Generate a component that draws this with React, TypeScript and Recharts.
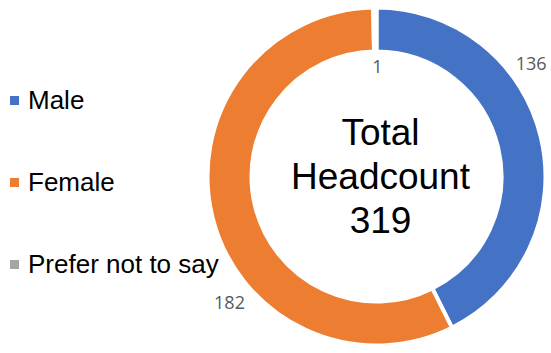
import { PieChart, Pie, Cell } from "recharts";

const categories = ["Male", "Female", "Prefer not to say"];
const headcounts = [136, 182, 1];
const colors = ["#4472C4", "#ED7D31", "#A5A5A5"];
const centerLines = ["Total", "Headcount", "319"];

const pieData = categories.map((name, i) => ({ name, value: headcounts[i] }));

// where each data label sits (Excel "best fit"), angle in degrees, radius in px
const labelSpots = [
  { angle: 36.3, r: 192 },
  { angle: 220.4, r: 193 },
  { angle: 89.5, r: 111 },
];

const RAD = Math.PI / 180;
const CX = 376.5;
const CY = 176.5;

const renderLabel = (props: any) => {
  const { cx, cy, index, value } = props;
  const spot = labelSpots[index];
  const x = cx + spot.r * Math.cos(spot.angle * RAD);
  const y = cy - spot.r * Math.sin(spot.angle * RAD);
  return (
    <text
      x={x}
      y={y}
      textAnchor="middle"
      dominantBaseline="central"
      fill="#595959"
      fontSize={18}
      fontFamily="'Open Sans', 'Liberation Sans', sans-serif"
    >
      {value}
    </text>
  );
};

export default function App() {
  return (
    <div
      style={{
        position: "absolute",
        left: 0,
        top: 0,
        width: 551,
        height: 353,
        background: "#fff",
      }}
    >
      {/* legend on the left */}
      <div style={{ position: "absolute", left: 0, top: 0, width: 230, height: 353 }}>
        {categories.map((name, i) => (
          <div
            key={name}
            style={{
              position: "absolute",
              left: 10,
              top: 100 + i * 82 - 15,
              height: 30,
              display: "flex",
              alignItems: "center",
              whiteSpace: "nowrap",
              fontFamily: "'Liberation Sans', Arial, sans-serif",
              fontSize: 26,
              color: "#000",
            }}
          >
            <span
              style={{
                display: "inline-block",
                width: 9,
                height: 9,
                background: colors[i],
                marginRight: 9,
              }}
            />
            {name}
          </div>
        ))}
      </div>

      <div style={{ position: "absolute", left: 0, top: 0 }}>
        <PieChart width={551} height={353} margin={{ top: 0, right: 0, bottom: 0, left: 0 }}>
          <Pie
            data={pieData}
            dataKey="value"
            nameKey="name"
            cx={CX}
            cy={CY}
            innerRadius={125}
            outerRadius={169}
            startAngle={90}
            endAngle={-270}
            stroke="#fff"
            strokeWidth={4}
            label={renderLabel}
            labelLine={false}
            isAnimationActive={false}
          >
            {pieData.map((entry, i) => (
              <Cell key={entry.name} fill={colors[i]} />
            ))}
          </Pie>
        </PieChart>
      </div>

      {/* centre caption */}
      <div
        style={{
          position: "absolute",
          left: CX - 116,
          top: 111,
          width: 240,
          textAlign: "center",
          fontFamily: "'Liberation Sans', Arial, sans-serif",
          fontSize: 37,
          lineHeight: "44px",
          color: "#000",
          pointerEvents: "none",
        }}
      >
        {centerLines.map((line) => (
          <div key={line}>{line}</div>
        ))}
      </div>
    </div>
  );
}
